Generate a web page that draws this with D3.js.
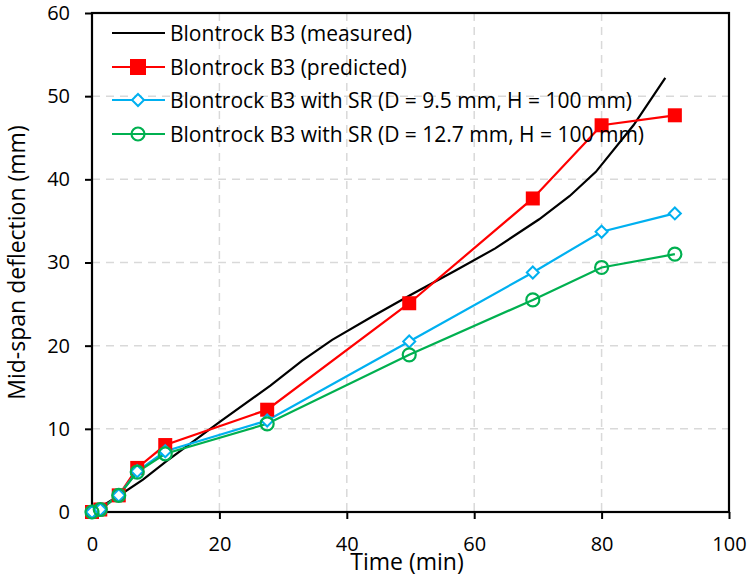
<!DOCTYPE html>
<html><head><meta charset="utf-8">
<script src="https://cdn.jsdelivr.net/npm/d3@7"></script>
<style>body{margin:0;background:#fff}svg{display:block}text{font-family:"Open Sans",Lato,sans-serif;fill:#000}</style>
</head><body><svg id="c" width="748" height="581"></svg>
<script>
const xTicks=[0,20,40,60,80,100];
const yTicks=[0,10,20,30,40,50,60];
const measuredX=[0,2,4.5,8,11.5,20,28,33,37.7,44,50,57,63.3,70.2,75,79.1,85,90];
const measuredY=[0,0.9,2.1,3.9,6.0,10.8,15.2,18.2,20.7,23.5,26.1,29.0,31.7,35.2,38.0,40.9,46.5,52.2];
const simX=[0,1.3,4.2,7.1,11.5,27.5,49.8,69.2,80,91.5];
const predictedY=[0,0.3,2.0,5.3,8.05,12.3,25.1,37.7,46.5,47.7];
const sr95Y=[0,0.3,2.0,4.9,7.3,11.0,20.5,28.8,33.7,35.9];
const sr127Y=[0,0.3,2.0,4.8,7.0,10.6,18.9,25.5,29.4,31.0];
const legendLabels=["Blontrock B3 (measured)","Blontrock B3 (predicted)","Blontrock B3 with SR (D = 9.5 mm, H = 100 mm)","Blontrock B3 with SR (D = 12.7 mm, H = 100 mm)"];

const svg=d3.select("#c");
const L=92,R=729,T=13,B=512;
const x=d3.scaleLinear().domain([0,100]).range([L,R]);
const y=d3.scaleLinear().domain([0,60]).range([B,T]);

const g=svg.append("g");
g.selectAll(".gx").data(xTicks.filter(d=>d>0&&d<100)).join("line")
 .attr("x1",d=>x(d)).attr("x2",d=>x(d)).attr("y1",T).attr("y2",B)
 .attr("stroke","#d9d9d9").attr("stroke-width",1.5).attr("stroke-dasharray","8,6");
g.selectAll(".gy").data(yTicks.filter(d=>d>0&&d<60)).join("line")
 .attr("x1",L).attr("x2",R).attr("y1",d=>y(d)).attr("y2",d=>y(d))
 .attr("stroke","#d9d9d9").attr("stroke-width",1.5).attr("stroke-dasharray","8,6");

const xa=svg.append("g").attr("transform",`translate(0,${B})`)
 .call(d3.axisBottom(x).tickValues(xTicks).tickSize(7).tickPadding(18));
const ya=svg.append("g").attr("transform",`translate(${L},0)`)
 .call(d3.axisLeft(y).tickValues(yTicks).tickSize(7).tickPadding(15));
[xa,ya].forEach(a=>{a.select(".domain").remove();a.selectAll("line").attr("stroke","#000").attr("stroke-width",2);
 a.selectAll("text").style("font-size","20px").style("font-family","'Open Sans',sans-serif");});
svg.append("rect").attr("x",L).attr("y",T).attr("width",R-L).attr("height",B-T)
 .attr("fill","none").attr("stroke","#000").attr("stroke-width",2.2);

svg.append("text").attr("x",407).attr("y",570).attr("text-anchor","middle").style("font-size","23px").text("Time (min)");
svg.append("text").attr("transform",`translate(25,${(T+B)/2}) rotate(-90)`).attr("text-anchor","middle").style("font-size","23px").text("Mid-span deflection (mm)");

const line=d3.line().x(d=>x(d[0])).y(d=>y(d[1]));
const plot=svg.append("g");
const meas=measuredX.map((v,i)=>[v,measuredY[i]]);
plot.append("path").datum(meas).attr("d",line).attr("fill","none").attr("stroke","#000").attr("stroke-width",2.2);

const series=[
 {vals:predictedY,color:"#ff0000",m:"square"},
 {vals:sr95Y,color:"#00b0f0",m:"diamond"},
 {vals:sr127Y,color:"#00b050",m:"circle"}];
function marker(sel,m,color,big){
 if(m==="square"){const s=big?16:14;sel.append("rect").attr("x",-s/2).attr("y",-s/2).attr("width",s).attr("height",s).attr("fill",color);}
 else if(m==="diamond"){const s=6;sel.append("path").attr("d",`M0,${-s}L${s},0L0,${s}L${-s},0Z`).attr("fill","#fff").attr("stroke",color).attr("stroke-width",2);}
 else {sel.append("circle").attr("r",6.5).attr("fill","none").attr("stroke",color).attr("stroke-width",2.2);}
}
series.forEach(s=>{
 const pts=simX.map((v,i)=>[v,s.vals[i]]);
 plot.append("path").datum(pts).attr("d",line).attr("fill","none").attr("stroke",s.color).attr("stroke-width",2.2);
});
series.forEach(s=>{
 const pts=simX.map((v,i)=>[v,s.vals[i]]);
 pts.forEach(p=>{const gg=plot.append("g").attr("transform",`translate(${x(p[0])},${y(p[1])})`);marker(gg,s.m,s.color,false);});
});

const ly=[33,67,100,134];
const lg=svg.append("g");
const lcolors=["#000","#ff0000","#00b0f0","#00b050"];
const lm=[null,"square","diamond","circle"];
legendLabels.forEach((t,i)=>{
 lg.append("line").attr("x1",112).attr("x2",165).attr("y1",ly[i]).attr("y2",ly[i]).attr("stroke",lcolors[i]).attr("stroke-width",2.2);
 if(lm[i]){const gg=lg.append("g").attr("transform",`translate(138,${ly[i]})`);marker(gg,lm[i],lcolors[i],true);}
 lg.append("text").attr("x",170).attr("y",ly[i]+7.5).style("font-size","21px").text(t);
});
</script></body></html>
